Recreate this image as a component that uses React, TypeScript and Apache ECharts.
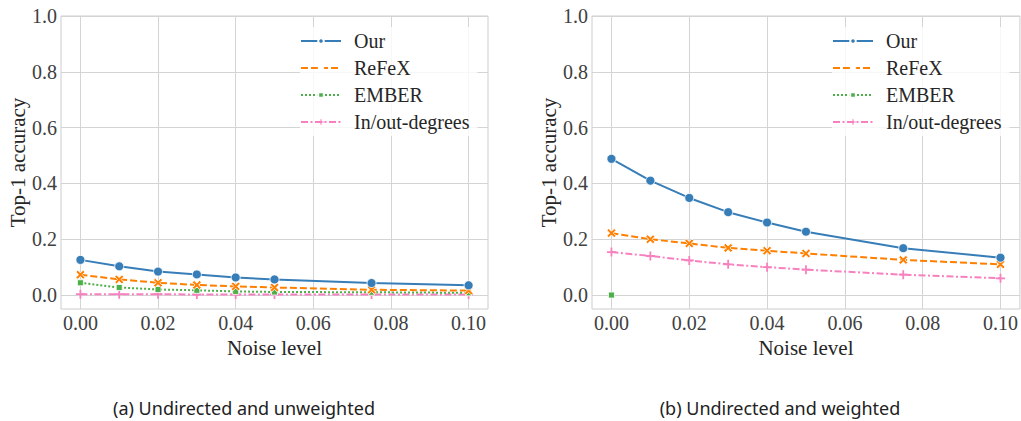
import React, { useEffect, useRef } from "react";
import * as echarts from "echarts";

const noiseLevels = [0, 0.01, 0.02, 0.03, 0.04, 0.05, 0.075, 0.1];
const xTicks = [0, 0.02, 0.04, 0.06, 0.08, 0.1];
const yTicks = [0, 0.2, 0.4, 0.6, 0.8, 1.0];

// (a) Undirected and unweighted
const unwOur = [0.126, 0.103, 0.084, 0.074, 0.063, 0.056, 0.043, 0.035];
const unwRefex = [0.073, 0.056, 0.044, 0.036, 0.031, 0.027, 0.019, 0.016];
const unwEmber = [0.044, 0.027, 0.02, 0.017, 0.013, 0.011, 0.01, 0.008];
const unwDegrees = [0.003, 0.003, 0.003, 0.002, 0.002, 0.002, 0.002, 0.002];

// (b) Undirected and weighted
const wOur = [0.488, 0.41, 0.348, 0.297, 0.26, 0.227, 0.168, 0.134];
const wRefex = [0.222, 0.2, 0.185, 0.169, 0.159, 0.149, 0.126, 0.11];
const wEmber = [0.0, null, null, null, null, null, null, null];
const wDegrees = [0.154, 0.14, 0.124, 0.11, 0.1, 0.091, 0.073, 0.06];

const seriesNames = ["Our", "ReFeX", "EMBER", "In/out-degrees"];
const captions = ["(a) Undirected and unweighted", "(b) Undirected and weighted"];

const COLORS = ["#377eb8", "#ff7f00", "#4daf4a", "#f781bf"];
const X_SYMBOL =
  "path://M0,2 L2,0 L5,3 L8,0 L10,2 L7,5 L10,8 L8,10 L5,7 L2,10 L0,8 L3,5 Z";
const PLUS_SYMBOL =
  "path://M4,0 H6 V4 H10 V6 H6 V10 H4 V6 H0 V4 H4 Z";
const SYMBOLS = ["circle", X_SYMBOL, "rect", PLUS_SYMBOL];
const SYMBOL_SIZES = [9, 9, 6, 9];
const DASHES: any[] = ["solid", [7, 3], [2, 2], [7, 2.5, 2, 2.5]];

const SERIF = "Liberation Serif";
const SANS = "Noto Sans";

function pairs(vals: (number | null)[]) {
  return noiseLevels.map((x, i) => [x, vals[i]]);
}

export default function App() {
  const ref = useRef<HTMLDivElement>(null);
  useEffect(() => {
    if (!ref.current) return;
    const chart = echarts.init(ref.current, null, { renderer: "svg" });
    const grids = [
      { left: 61, top: 16, width: 427, height: 293 },
      { left: 592, top: 16, width: 428, height: 293 },
    ];
    const panelData = [
      [unwOur, unwRefex, unwEmber, unwDegrees],
      [wOur, wRefex, wEmber, wDegrees],
    ];
    const series: any[] = [];
    panelData.forEach((panel, p) => {
      panel.forEach((vals, s) => {
        series.push({
          type: "line",
          name: seriesNames[s],
          xAxisIndex: p,
          yAxisIndex: p,
          data: pairs(vals),
          symbol: SYMBOLS[s],
          symbolSize: SYMBOL_SIZES[s],
          showSymbol: true,
          connectNulls: false,
          color: COLORS[s],
          lineStyle: { width: 2, type: DASHES[s], color: COLORS[s] },
          itemStyle: {
            color: COLORS[s],
            borderColor: "#ffffff",
            borderWidth: s === 3 ? 0 : 0.8,
          },
          z: 10 - s,
        });
      });
    });

    const legends = [0, 1].map((p) => ({
      orient: "vertical",
      left: p === 0 ? 300 : 832,
      top: 27,
      itemWidth: 40,
      itemHeight: 7,
      itemGap: 7,
      padding: [4, 8, 4, 0],
      backgroundColor: "rgba(255,255,255,0.8)",
      textStyle: { fontFamily: SERIF, fontSize: 20, color: "#262626", padding: [0, 0, 0, 8] },
      data: seriesNames,
      selectedMode: false,
    }));

    chart.setOption({
      animation: false,
      backgroundColor: "#ffffff",
      grid: grids.map((g) => ({
        ...g,
        show: true,
        borderColor: "#cccccc",
        borderWidth: 1,
      })),
      legend: legends,
      xAxis: [0, 1].map((p) => ({
        type: "value",
        gridIndex: p,
        min: -0.005,
        max: 0.105,
        name: "Noise level",
        nameLocation: "middle",
        nameGap: 22,
        nameTextStyle: { fontFamily: SERIF, fontSize: 21, color: "#262626" },
        axisLine: { show: false },
        axisTick: { show: false, customValues: xTicks },
        axisLabel: {
          customValues: xTicks,
          formatter: (v: number) => v.toFixed(2),
          fontFamily: SERIF,
          fontSize: 20,
          color: "#404040",
          margin: 4,
        },
        splitLine: { show: true, lineStyle: { color: "#d4d4d4", width: 1 } },
      })),
      yAxis: [0, 1].map((p) => ({
        type: "value",
        gridIndex: p,
        min: -0.05,
        max: 1.0,
        name: "Top-1 accuracy",
        nameLocation: "middle",
        nameRotate: 90,
        nameGap: 33,
        nameTextStyle: { fontFamily: SERIF, fontSize: 21, color: "#262626" },
        axisLine: { show: false },
        axisTick: { show: false, customValues: yTicks },
        axisLabel: {
          customValues: yTicks,
          formatter: (v: number) => v.toFixed(1),
          fontFamily: SERIF,
          fontSize: 20,
          color: "#404040",
          margin: 4,
        },
        splitLine: { show: true, lineStyle: { color: "#d4d4d4", width: 1 } },
      })),
      series,
      graphic: [0, 1].map((p) => ({
        type: "text",
        x: p === 0 ? 244 : 780,
        y: 408,
        style: {
          text: captions[p],
          fontFamily: SANS,
          fontSize: 18,
          fill: "#222222",
          textAlign: "center",
          textVerticalAlign: "middle",
        },
      })),
    });
    return () => chart.dispose();
  }, []);
  return (
    <div
      ref={ref}
      style={{ position: "fixed", left: 0, top: 0, width: 1021, height: 421 }}
    />
  );
}
